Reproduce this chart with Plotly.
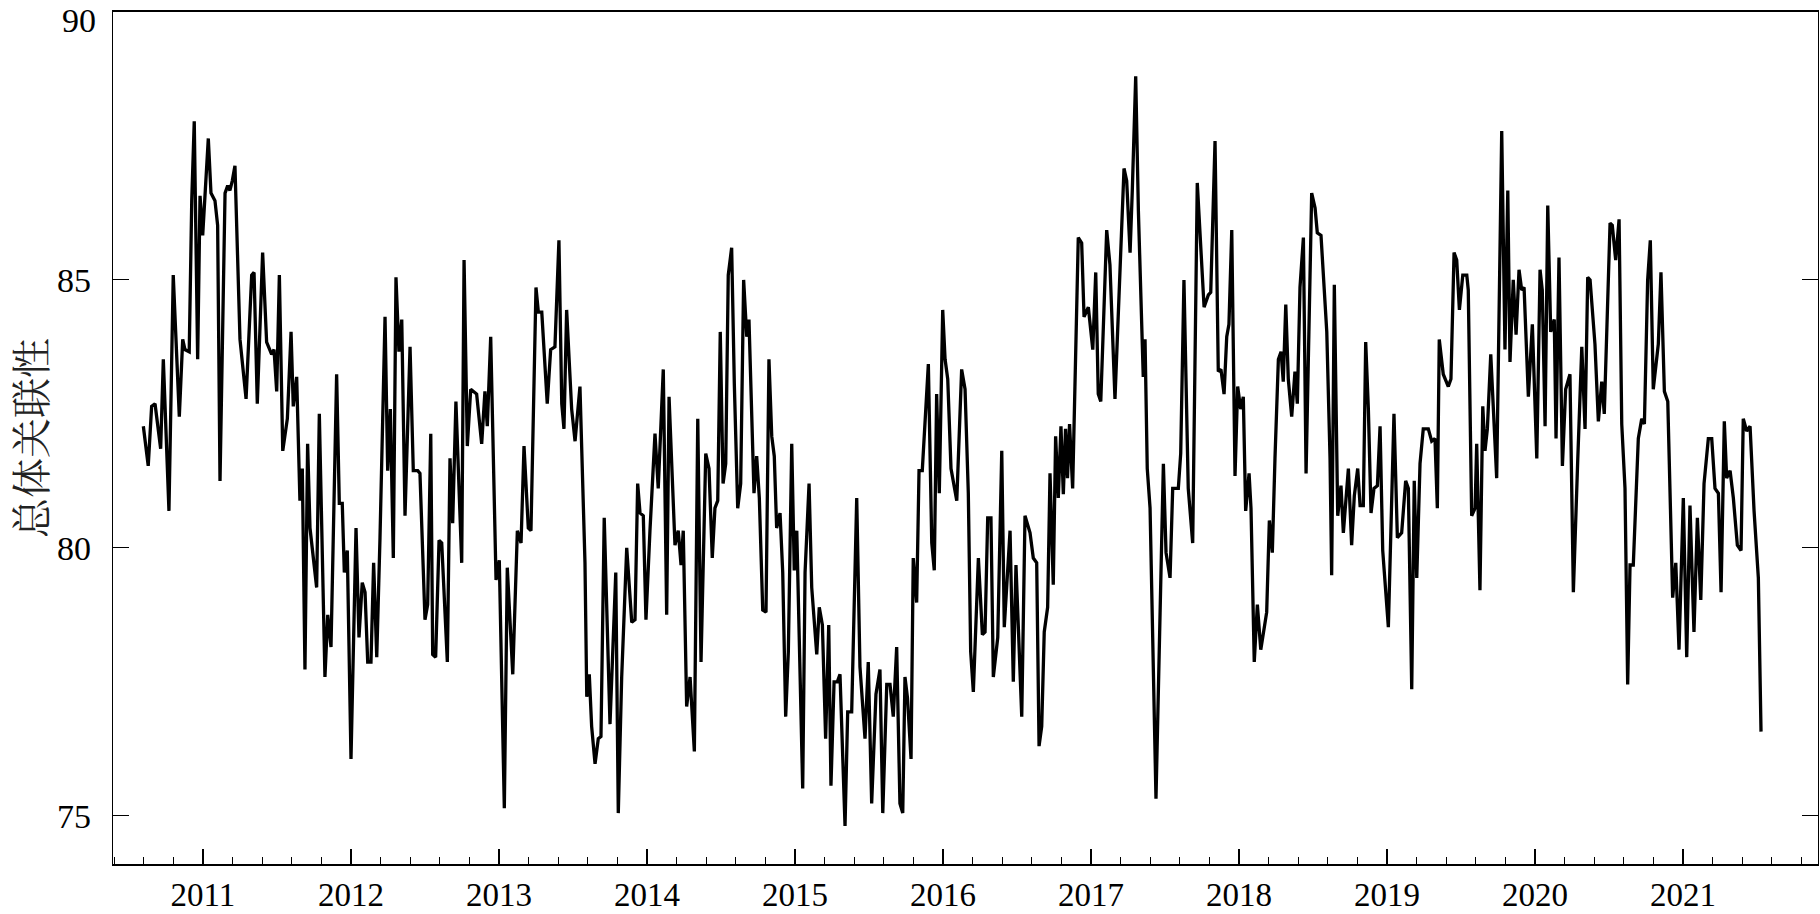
import plotly.graph_objects as go

# decimal-year positions and values
t = [2010.597, 2010.630, 2010.653, 2010.676, 2010.714, 2010.732, 2010.770, 2010.799, 2010.840, 2010.863,
     2010.878, 2010.907, 2010.924, 2010.941, 2010.964, 2010.980, 2010.998, 2011.036, 2011.054, 2011.081,
     2011.099, 2011.115, 2011.149, 2011.167, 2011.182, 2011.198, 2011.216, 2011.250, 2011.291, 2011.329,
     2011.345, 2011.367, 2011.403, 2011.430, 2011.464, 2011.480, 2011.498, 2011.516, 2011.539, 2011.570,
     2011.595, 2011.610, 2011.633, 2011.655, 2011.671, 2011.689, 2011.707, 2011.723, 2011.768, 2011.786,
     2011.824, 2011.843, 2011.865, 2011.903, 2011.921, 2011.941, 2011.955, 2011.975, 2012.000, 2012.034,
     2012.054, 2012.076, 2012.095, 2012.113, 2012.135, 2012.153, 2012.174, 2012.196, 2012.230, 2012.248,
     2012.266, 2012.286, 2012.304, 2012.324, 2012.343, 2012.365, 2012.399, 2012.421, 2012.451, 2012.466,
     2012.500, 2012.518, 2012.539, 2012.552, 2012.572, 2012.595, 2012.613, 2012.651, 2012.669, 2012.687,
     2012.709, 2012.748, 2012.764, 2012.786, 2012.809, 2012.849, 2012.883, 2012.905, 2012.921, 2012.944,
     2012.980, 2013.002, 2013.036, 2013.056, 2013.093, 2013.124, 2013.149, 2013.169, 2013.198, 2013.216,
     2013.250, 2013.266, 2013.289, 2013.326, 2013.349, 2013.378, 2013.405, 2013.424, 2013.439, 2013.457,
     2013.491, 2013.514, 2013.547, 2013.581, 2013.593, 2013.610, 2013.626, 2013.649, 2013.671, 2013.689,
     2013.711, 2013.750, 2013.789, 2013.806, 2013.829, 2013.863, 2013.897, 2013.919, 2013.937, 2013.953,
     2013.975, 2013.993, 2014.020, 2014.054, 2014.076, 2014.110, 2014.133, 2014.149, 2014.189, 2014.211,
     2014.230, 2014.245, 2014.268, 2014.291, 2014.320, 2014.343, 2014.365, 2014.397, 2014.419, 2014.441,
     2014.459, 2014.478, 2014.495, 2014.514, 2014.532, 2014.549, 2014.572, 2014.590, 2014.613, 2014.633,
     2014.653, 2014.674, 2014.689, 2014.723, 2014.741, 2014.759, 2014.782, 2014.804, 2014.824, 2014.843,
     2014.860, 2014.876, 2014.899, 2014.917, 2014.937, 2014.955, 2014.978, 2014.995, 2015.012, 2015.029,
     2015.052, 2015.068, 2015.095, 2015.113, 2015.147, 2015.164, 2015.185, 2015.207, 2015.228, 2015.243,
     2015.264, 2015.286, 2015.304, 2015.338, 2015.356, 2015.383, 2015.417, 2015.439, 2015.473, 2015.495,
     2015.518, 2015.547, 2015.574, 2015.593, 2015.620, 2015.642, 2015.664, 2015.687, 2015.709, 2015.728,
     2015.743, 2015.760, 2015.784, 2015.799, 2015.822, 2015.838, 2015.860, 2015.901, 2015.924, 2015.941,
     2015.957, 2015.975, 2015.998, 2016.014, 2016.032, 2016.054, 2016.093, 2016.126, 2016.149, 2016.171,
     2016.187, 2016.205, 2016.239, 2016.266, 2016.284, 2016.302, 2016.324, 2016.340, 2016.370, 2016.397,
     2016.414, 2016.453, 2016.475, 2016.493, 2016.532, 2016.554, 2016.588, 2016.610, 2016.633, 2016.649,
     2016.667, 2016.684, 2016.707, 2016.723, 2016.745, 2016.761, 2016.779, 2016.797, 2016.813, 2016.828,
     2016.841, 2016.855, 2016.876, 2016.914, 2016.937, 2016.953, 2016.982, 2017.012, 2017.032, 2017.049,
     2017.066, 2017.106, 2017.128, 2017.162, 2017.191, 2017.223, 2017.241, 2017.264, 2017.279, 2017.302,
     2017.320, 2017.343, 2017.353, 2017.365, 2017.380, 2017.399, 2017.439, 2017.466, 2017.489, 2017.507,
     2017.534, 2017.552, 2017.590, 2017.606, 2017.628, 2017.657, 2017.687, 2017.718, 2017.748, 2017.764,
     2017.793, 2017.809, 2017.838, 2017.860, 2017.878, 2017.899, 2017.917, 2017.932, 2017.951, 2017.973,
     2017.991, 2018.011, 2018.029, 2018.045, 2018.068, 2018.081, 2018.103, 2018.124, 2018.147, 2018.187,
     2018.205, 2018.225, 2018.243, 2018.266, 2018.284, 2018.299, 2018.316, 2018.333, 2018.356, 2018.378,
     2018.394, 2018.412, 2018.435, 2018.453, 2018.491, 2018.514, 2018.529, 2018.554, 2018.593, 2018.615,
     2018.626, 2018.644, 2018.667, 2018.689, 2018.705, 2018.739, 2018.761, 2018.779, 2018.802, 2018.818,
     2018.840, 2018.856, 2018.874, 2018.892, 2018.912, 2018.935, 2018.953, 2018.971, 2019.009, 2019.047,
     2019.070, 2019.099, 2019.126, 2019.144, 2019.167, 2019.184, 2019.201, 2019.223, 2019.245, 2019.279,
     2019.302, 2019.324, 2019.340, 2019.353, 2019.380, 2019.414, 2019.432, 2019.453, 2019.471, 2019.489,
     2019.512, 2019.539, 2019.549, 2019.572, 2019.595, 2019.606, 2019.628, 2019.647, 2019.662, 2019.678,
     2019.701, 2019.741, 2019.775, 2019.797, 2019.816, 2019.831, 2019.853, 2019.872, 2019.892, 2019.910,
     2019.926, 2019.955, 2019.982, 2020.012, 2020.034, 2020.049, 2020.068, 2020.086, 2020.106, 2020.130,
     2020.142, 2020.162, 2020.185, 2020.207, 2020.236, 2020.259, 2020.289, 2020.316, 2020.338, 2020.356,
     2020.372, 2020.405, 2020.428, 2020.451, 2020.468, 2020.507, 2020.522, 2020.545, 2020.568, 2020.586,
     2020.608, 2020.626, 2020.642, 2020.664, 2020.698, 2020.721, 2020.739, 2020.761, 2020.779, 2020.799,
     2020.833, 2020.851, 2020.874, 2020.897, 2020.930, 2020.951, 2020.973, 2021.002, 2021.025, 2021.047,
     2021.074, 2021.097, 2021.120, 2021.142, 2021.171, 2021.194, 2021.216, 2021.239, 2021.257, 2021.279,
     2021.295, 2021.318, 2021.340, 2021.367, 2021.392, 2021.407, 2021.430, 2021.453, 2021.480, 2021.509,
     2021.527]

value = [82.27, 81.53, 82.64, 82.69, 81.85, 83.52, 80.69, 85.09, 82.45, 83.89,
         83.70, 83.66, 86.48, 87.96, 83.52, 86.57, 85.83, 87.64, 86.62, 86.48,
         86.02, 81.25, 86.62, 86.76, 86.67, 86.85, 87.13, 83.89, 82.78, 85.09,
         85.14, 82.69, 85.51, 83.84, 83.61, 83.70, 82.92, 85.09, 81.81, 82.41,
         84.03, 82.64, 83.19, 80.88, 81.48, 77.73, 81.94, 80.37, 79.26, 82.50,
         77.59, 78.75, 78.15, 83.24, 80.83, 80.83, 79.54, 79.95, 76.06, 80.37,
         78.33, 79.35, 79.17, 77.87, 77.87, 79.72, 77.96, 80.19, 84.31, 81.44,
         82.59, 79.81, 85.05, 83.66, 84.26, 80.60, 83.75, 81.44, 81.44, 81.39,
         78.66, 78.94, 82.13, 78.01, 77.96, 80.14, 80.09, 77.87, 81.67, 80.46,
         82.73, 79.72, 85.37, 81.90, 82.96, 82.87, 81.94, 82.92, 82.27, 83.94,
         79.40, 79.77, 75.14, 79.63, 77.64, 80.32, 80.09, 81.90, 80.37, 80.32,
         84.86, 84.40, 84.40, 82.69, 83.70, 83.75, 85.74, 82.69, 82.22, 84.44,
         82.59, 81.99, 83.01, 79.72, 77.22, 77.64, 76.67, 75.97, 76.44, 76.48,
         80.56, 76.71, 79.54, 75.05, 77.59, 80.00, 78.61, 78.66, 81.20, 80.65,
         80.60, 78.66, 80.32, 82.13, 81.11, 83.33, 78.75, 82.82, 80.05, 80.32,
         79.68, 80.32, 77.04, 77.59, 76.20, 82.41, 77.87, 81.76, 81.48, 79.81,
         80.74, 80.88, 84.03, 81.20, 81.57, 85.09, 85.60, 83.06, 80.74, 81.20,
         85.00, 83.94, 84.26, 81.02, 81.71, 80.93, 78.84, 78.80, 83.52, 82.08,
         81.71, 80.37, 80.65, 79.54, 76.85, 78.06, 81.94, 79.58, 80.32, 78.24,
         75.51, 79.54, 81.20, 79.26, 78.01, 78.89, 78.56, 76.44, 78.56, 75.56,
         77.50, 77.50, 77.64, 74.81, 76.94, 76.94, 80.93, 77.78, 76.44, 77.87,
         75.23, 77.27, 77.73, 75.05, 77.45, 77.45, 76.85, 78.15, 75.23, 75.05,
         77.59, 77.20, 76.06, 79.81, 78.98, 81.44, 81.44, 83.43, 80.09, 79.58,
         82.87, 81.02, 84.44, 83.52, 83.15, 81.48, 80.88, 83.33, 82.96, 81.02,
         78.06, 77.31, 79.81, 78.38, 78.43, 80.56, 80.56, 77.59, 78.33, 81.81,
         78.52, 80.32, 77.50, 79.68, 76.85, 80.60, 80.28, 79.81, 79.72, 76.30,
         76.67, 78.43, 78.89, 81.39, 79.31, 82.08, 80.93, 82.27, 81.00, 82.22,
         81.30, 82.31, 81.11, 85.79, 85.69, 84.31, 84.49, 83.70, 85.14, 82.87,
         82.73, 85.93, 85.28, 82.78, 84.95, 87.08, 86.85, 85.51, 86.67, 88.80,
         86.30, 83.89, 83.19, 83.89, 81.48, 80.74, 75.32, 78.70, 81.57, 79.91,
         79.44, 81.11, 81.11, 81.76, 85.00, 81.11, 80.09, 86.81, 85.19, 84.49,
         84.72, 84.77, 87.59, 83.29, 83.33, 82.87, 83.94, 84.17, 85.93, 81.34,
         83.01, 82.59, 82.82, 80.69, 81.39, 80.74, 77.87, 78.94, 78.10, 78.80,
         80.51, 79.91, 81.67, 83.52, 83.66, 83.10, 84.54, 83.15, 82.45, 83.29,
         82.69, 84.86, 85.79, 81.39, 86.62, 86.34, 85.88, 85.83, 84.03, 81.67,
         79.49, 84.91, 80.60, 81.16, 80.28, 81.48, 80.05, 80.97, 81.48, 80.79,
         80.79, 83.84, 82.59, 80.65, 81.11, 81.16, 82.27, 79.95, 78.52, 82.50,
         80.19, 80.28, 81.25, 81.11, 77.36, 81.25, 79.44, 81.57, 82.22, 82.22,
         81.99, 82.04, 80.74, 83.89, 83.24, 83.01, 83.15, 85.51, 85.37, 84.44,
         85.09, 85.09, 84.81, 80.60, 80.74, 81.94, 79.21, 82.64, 81.81, 82.22,
         83.61, 81.30, 87.78, 83.70, 86.67, 83.47, 85.00, 83.98, 85.19, 84.81,
         84.86, 82.82, 84.17, 81.67, 85.19, 84.81, 82.27, 86.39, 84.03, 84.26,
         82.04, 85.42, 81.53, 82.96, 83.24, 79.17, 81.67, 83.75, 82.22, 85.05,
         85.00, 83.80, 82.36, 83.10, 82.50, 86.06, 86.02, 85.37, 86.13, 82.31,
         81.11, 77.45, 79.68, 79.68, 82.04, 82.41, 82.31, 85.00, 85.74, 82.96,
         83.80, 85.14, 82.92, 82.73, 79.07, 79.72, 78.10, 80.93, 77.96, 80.79,
         78.43, 80.56, 79.03, 81.20, 82.04, 82.04, 81.11, 81.02, 79.17, 82.36,
         81.30, 81.44, 80.93, 80.05, 79.95, 82.41, 82.18, 82.27, 80.69, 79.44,
         76.57]

year_ticks = [2011, 2012, 2013, 2014, 2015, 2016, 2017, 2018, 2019, 2020, 2021]
year_labels = [str(y) for y in year_ticks]
y_ticks = [75, 80, 85, 90]
y_labels = ["75", "80", "85", ""]   # the top label "90" is placed as an annotation so it stays inside the page
y_top_label = "90"
y_title = "总体关联性"

fig = go.Figure()
fig.add_trace(go.Scatter(x=t, y=value, mode="lines",
                         line=dict(color="black", width=3.3), showlegend=False,
                         hoverinfo="skip"))

serif = "Liberation Serif, Times New Roman, serif"
fig.update_layout(
    width=1820, height=914,
    margin=dict(l=113, r=2, t=12, b=50, autoexpand=False),
    paper_bgcolor="white", plot_bgcolor="white",
    font=dict(family=serif, size=34, color="black"),
)
fig.update_xaxes(
    range=[2010.392, 2021.912], automargin=False,
    tickmode="array", tickvals=year_ticks, ticktext=year_labels,
    ticks="inside", ticklen=15, tickwidth=1.6, tickcolor="black",
    minor=dict(dtick=0.2, tick0=2011, ticks="inside", ticklen=7,
               tickwidth=1.4, tickcolor="black", showgrid=False),
    showline=True, linecolor="black", linewidth=2.2, mirror=True,
    showgrid=False, zeroline=False,
    tickfont=dict(family=serif, size=33, color="black"),
    ticklabelstandoff=0,
)
fig.update_yaxes(
    range=[74.1, 90.0], automargin=False,
    tickmode="array", tickvals=y_ticks, ticktext=y_labels,
    ticks="inside", ticklen=16, tickwidth=1.4, tickcolor="black",
    showline=True, linecolor="black", linewidth=1.4, mirror="ticks",
    showgrid=False, zeroline=False,
    tickfont=dict(family=serif, size=34, color="black"),
    ticklabelstandoff=14,
    title=dict(text=y_title, standoff=0,
               font=dict(family="Noto Serif CJK SC, Noto Sans CJK SC, serif", size=40, color="#222")),
)
fig.add_annotation(
    xref="paper", x=0, yref="y", y=y_ticks[-1], text=y_top_label,
    showarrow=False, xanchor="right", yanchor="top", xshift=-16, yshift=11,
    font=dict(family=serif, size=34, color="black"), borderpad=0,
)

fig.write_html(
    "out.html",
    config={"displayModeBar": False},
    post_script="document.body.style.margin='0px';document.body.style.overflow='hidden';",
)
